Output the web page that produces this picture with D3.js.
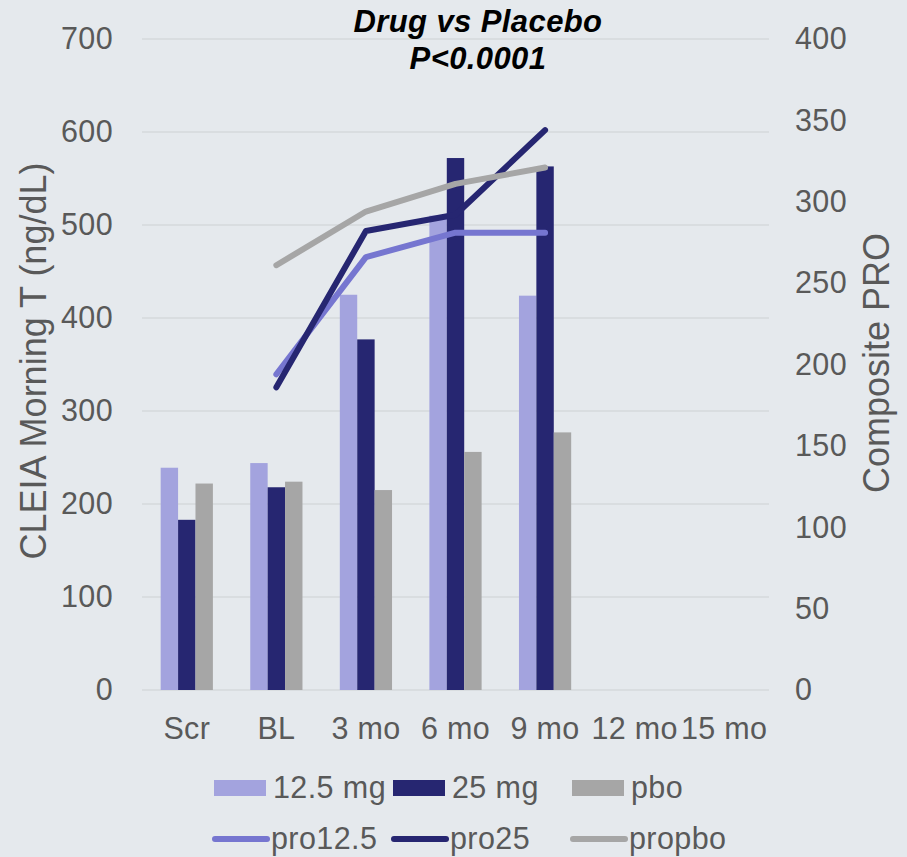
<!DOCTYPE html>
<html>
<head>
<meta charset="utf-8">
<script src="https://cdn.jsdelivr.net/npm/d3@7"></script>
<style>
  html, body { margin: 0; padding: 0; background: #e5e9ed; }
  svg { display: block; font-family: "Liberation Sans", Arial, sans-serif; }
</style>
</head>
<body>
<svg id="chart" width="907" height="857"></svg>
<script>
// Visit categories along the x axis
const categories = ["Scr", "BL", "3 mo", "6 mo", "9 mo", "12 mo", "15 mo"];

// Morning T (ng/dL) per arm, left axis
const t125 = [239, 244, 425, 510, 424, null, null];
const t25  = [183, 218, 377, 572, 563, null, null];
const tpbo = [222, 224, 215, 256, 277, null, null];

// Composite PRO per arm, right axis
const pro125 = [null, 194, 266, 281, 281, null, null];
const pro25  = [null, 186, 282, 292, 344, null, null];
const propbo = [null, 261, 294, 311, 321, null, null];

// Tick labels
const leftTicks  = [0, 100, 200, 300, 400, 500, 600, 700];
const rightTicks = [0, 50, 100, 150, 200, 250, 300, 350, 400];

const barSeries = [
  { name: "12.5 mg", values: t125, color: "#a3a3de" },
  { name: "25 mg",   values: t25,  color: "#262671" },
  { name: "pbo",     values: tpbo, color: "#a6a6a6" }
];
const lineSeries = [
  { name: "pro12.5", values: pro125, color: "#7676d0" },
  { name: "pro25",   values: pro25,  color: "#262671" },
  { name: "propbo",  values: propbo, color: "#a6a6a6" }
];

const svg = d3.select("#chart");
const textColor = "#595959";
const fontSize = 30.5;
const plot = { left: 142, right: 769, top: 39, bottom: 690 };

const x = d3.scaleBand().domain(categories).range([plot.left, plot.right]).padding(0);
const groupWidth = x.bandwidth() * 0.583;
const xInner = d3.scaleBand().domain(barSeries.map(s => s.name))
  .range([0, groupWidth]).padding(0);
const yLeft = d3.scaleLinear().domain([0, 700]).range([plot.bottom, plot.top]);
const yRight = d3.scaleLinear().domain([0, 400]).range([plot.bottom, plot.top]);

// Horizontal gridlines
svg.append("g").selectAll("line").data(leftTicks).join("line")
  .attr("x1", plot.left).attr("x2", plot.right)
  .attr("y1", d => yLeft(d)).attr("y2", d => yLeft(d))
  .attr("stroke", "#d5d8db").attr("stroke-width", 1.5);

function styleTicks(sel, spacing) {
  sel.selectAll("text").attr("fill", textColor).attr("font-size", fontSize)
    .attr("letter-spacing", spacing).attr("font-family", "Liberation Sans, Arial, sans-serif");
}

// Left axis
const leftAxis = svg.append("g").attr("transform", `translate(${plot.left},0)`)
  .call(d3.axisLeft(yLeft).tickValues(leftTicks).tickSize(0).tickPadding(29));
leftAxis.select(".domain").remove();
styleTicks(leftAxis, 0.4);

// Right axis
const rightAxis = svg.append("g").attr("transform", `translate(${plot.right},0)`)
  .call(d3.axisRight(yRight).tickValues(rightTicks).tickSize(0).tickPadding(26));
rightAxis.select(".domain").remove();
styleTicks(rightAxis, 0.4);

// Bottom axis labels
const bottomAxis = svg.append("g").attr("transform", `translate(0,${plot.bottom})`)
  .call(d3.axisBottom(x).tickSize(0).tickPadding(27));
bottomAxis.select(".domain").remove();
styleTicks(bottomAxis, 0.3);

// Grouped bars
barSeries.forEach(s => {
  svg.append("g").selectAll("rect")
    .data(categories.map((c, i) => ({ c, v: s.values[i] })).filter(d => d.v != null))
    .join("rect")
    .attr("x", d => x(d.c) + (x.bandwidth() - groupWidth) / 2 + xInner(s.name))
    .attr("width", xInner.bandwidth())
    .attr("y", d => yLeft(d.v))
    .attr("height", d => yLeft(0) - yLeft(d.v))
    .attr("fill", s.color);
});

// PRO lines
const line = d3.line()
  .defined(d => d.v != null)
  .x(d => x(d.c) + x.bandwidth() / 2)
  .y(d => yRight(d.v));
lineSeries.forEach(s => {
  svg.append("path")
    .datum(categories.map((c, i) => ({ c, v: s.values[i] })))
    .attr("d", line)
    .attr("fill", "none")
    .attr("stroke", s.color)
    .attr("stroke-width", 6)
    .attr("stroke-linecap", "round")
    .attr("stroke-linejoin", "round");
});

// Title
const title = svg.append("g").attr("font-weight", "bold").attr("font-style", "italic")
  .attr("font-size", 31).attr("letter-spacing", 0.4).attr("fill", "#000").attr("text-anchor", "middle");
title.append("text").attr("x", 478).attr("y", 32).text("Drug vs Placebo");
title.append("text").attr("x", 478).attr("y", 69).text("P<0.0001");

// Axis titles
svg.append("text")
  .attr("transform", "translate(46,361) rotate(-90)")
  .attr("text-anchor", "middle").attr("font-size", 36).attr("fill", textColor)
  .text("CLEIA Morning T (ng/dL)");
svg.append("text")
  .attr("transform", "translate(889,363) rotate(-90)")
  .attr("text-anchor", "middle").attr("font-size", 36).attr("fill", textColor)
  .text("Composite PRO");

// Legend
const legendX = [214, 393, 572];
const legend1 = svg.append("g");
barSeries.forEach((s, i) => {
  legend1.append("rect").attr("x", legendX[i]).attr("y", 780)
    .attr("width", 52).attr("height", 16).attr("fill", s.color);
  legend1.append("text").attr("x", legendX[i] + 59).attr("y", 798)
    .attr("font-size", fontSize).attr("letter-spacing", 0.4).attr("fill", textColor).text(s.name);
});
const legend2 = svg.append("g");
lineSeries.forEach((s, i) => {
  legend2.append("line").attr("x1", legendX[i] + 1).attr("x2", legendX[i] + 53)
    .attr("y1", 839).attr("y2", 839)
    .attr("stroke", s.color).attr("stroke-width", 6).attr("stroke-linecap", "round");
  legend2.append("text").attr("x", legendX[i] + 57).attr("y", 849)
    .attr("font-size", fontSize).attr("letter-spacing", 0.4).attr("fill", textColor).text(s.name);
});
</script>
</body>
</html>
